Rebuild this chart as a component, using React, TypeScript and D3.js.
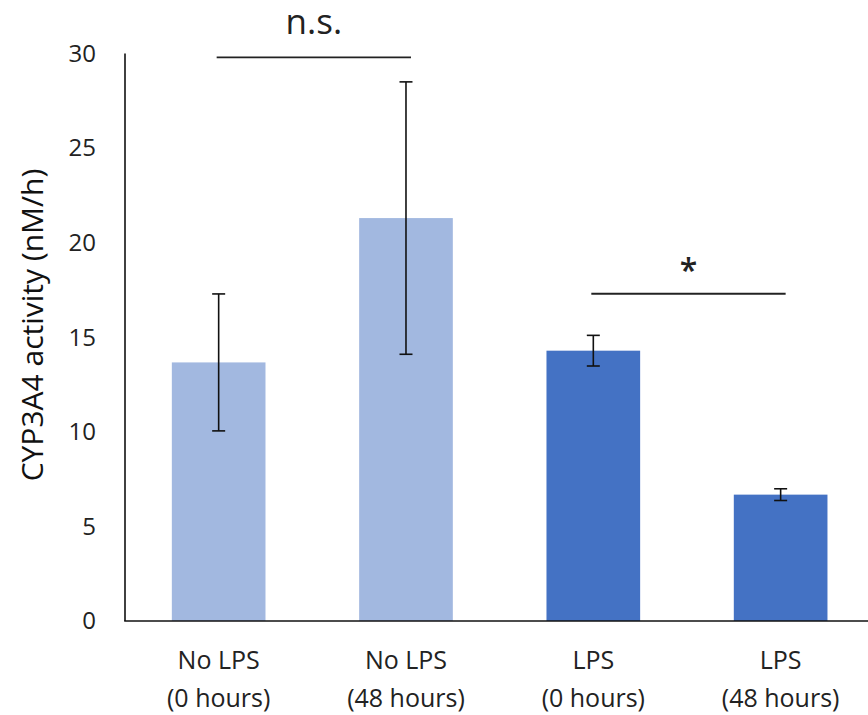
import React from "react";
import * as d3 from "d3";

const labelLine1 = ["No LPS", "No LPS", "LPS", "LPS"];
const labelLine2 = ["(0 hours)", "(48 hours)", "(0 hours)", "(48 hours)"];
const values = [13.67, 21.3, 14.29, 6.68];
const errors = [3.62, 7.2, 0.81, 0.31];
const barGroups = ["noLPS", "noLPS", "LPS", "LPS"];
const yTicks = [0, 5, 10, 15, 20, 25, 30];
const sigFrom = [0, 2];
const sigTo = [1, 3];
const sigLevel = [29.8, 17.3];
const sigLabel = ["n.s.", "*"];

const W = 868;
const H = 715;
const FONT = "'Open Sans', 'Noto Sans', sans-serif";

export default function App() {
  const ids = values.map((_, i) => String(i));
  const x = d3
    .scaleBand<string>()
    .domain(ids)
    .range([125, 874.3])
    .paddingInner(0.5)
    .paddingOuter(0.25);
  const y = d3.scaleLinear().domain([0, 30]).range([621, 53.5]);
  const color = d3
    .scaleOrdinal<string, string>()
    .domain(["noLPS", "LPS"])
    .range(["#A2B8E0", "#4472C4"]);
  const bw = x.bandwidth();
  const cx = (i: number) => (x(String(i)) as number) + bw / 2;
  const cap = 6.5;

  return (
    <svg
      width={W}
      height={H}
      style={{ position: "absolute", left: 0, top: 0, background: "#fff" }}
      fontFamily={FONT}
    >
      <rect x={0} y={0} width={W} height={H} fill="#fff" />
      {/* bars */}
      {values.map((v, i) => (
        <rect
          key={"b" + i}
          x={x(String(i))}
          y={y(v)}
          width={bw}
          height={y(0) - y(v)}
          fill={color(barGroups[i])}
        />
      ))}
      {/* error bars */}
      {values.map((v, i) => {
        const c = cx(i);
        const hi = y(v + errors[i]);
        const lo = y(v - errors[i]);
        return (
          <g key={"e" + i} stroke="#111" strokeWidth={1.6}>
            <line x1={c} x2={c} y1={hi} y2={lo} />
            <line x1={c - cap} x2={c + cap} y1={hi} y2={hi} />
            <line x1={c - cap} x2={c + cap} y1={lo} y2={lo} />
          </g>
        );
      })}
      {/* axes */}
      <line x1={125} x2={125} y1={y(30)} y2={y(0)} stroke="#111" strokeWidth={1.6} />
      <line x1={124.2} x2={W} y1={y(0)} y2={y(0)} stroke="#111" strokeWidth={1.6} />
      {/* y tick labels */}
      {yTicks.map((t) => (
        <text
          key={"t" + t}
          x={96}
          y={y(t)}
          dy="0.35em"
          textAnchor="end"
          fontSize={24}
          fill="#222"
        >
          {t}
        </text>
      ))}
      {/* y title */}
      <text
        transform={`translate(43, ${325}) rotate(-90)`}
        textAnchor="middle"
        fontSize={30}
        fill="#111"
      >
        CYP3A4 activity (nM/h)
      </text>
      {/* x labels */}
      {ids.map((id, i) => (
        <text
          key={"x" + i}
          x={cx(i)}
          textAnchor="middle"
          fontSize={25}
          fill="#222"
        >
          <tspan x={cx(i)} y={669}>
            {labelLine1[i]}
          </tspan>
          <tspan x={cx(i)} y={707}>
            {labelLine2[i]}
          </tspan>
        </text>
      ))}
      {/* significance brackets */}
      {sigFrom.map((f, k) => {
        const x1 = cx(f) - 2;
        const x2 = cx(sigTo[k]) + 5;
        const yy = y(sigLevel[k]);
        const mid = (x1 + x2) / 2;
        const isStar = sigLabel[k] === "*";
        return (
          <g key={"s" + k}>
            <line x1={x1} x2={x2} y1={yy} y2={yy} stroke="#222" strokeWidth={1.8} />
            <text
              x={mid}
              y={isStar ? yy - 12 : yy - 23}
              textAnchor="middle"
              fontSize={isStar ? 32 : 35}
              fontWeight={isStar ? 600 : 400}
              fill="#222"
            >
              {sigLabel[k]}
            </text>
          </g>
        );
      })}
    </svg>
  );
}
